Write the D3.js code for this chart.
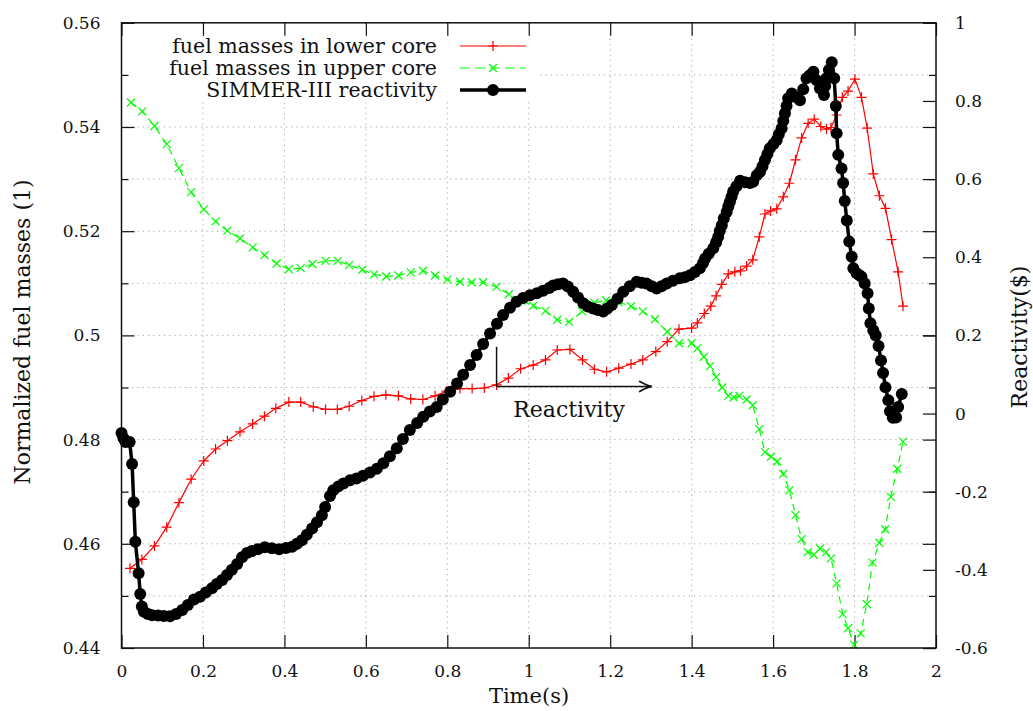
<!DOCTYPE html>
<html><head><meta charset="utf-8">
<script src="https://cdn.jsdelivr.net/npm/d3@7"></script>
<style>
body{margin:0;background:#fff;}
svg text{font-family:"DejaVu Serif",serif;fill:#111;}
</style></head><body>
<svg id="c" width="1033" height="711"></svg>
<script>
// ---------------- data ----------------
const lowerT = [0.021,0.050,0.081,0.111,0.141,0.171,0.202,0.231,0.260,0.291,0.322,0.351,0.379,0.411,0.440,0.471,0.501,0.530,0.559,0.590,0.620,0.649,0.680,0.710,0.740,0.770,0.798,0.831,0.861,0.891,0.921,0.950,0.980,1.011,1.041,1.070,1.101,1.132,1.161,1.191,1.221,1.251,1.280,1.312,1.340,1.369,1.400,1.414,1.431,1.447,1.460,1.474,1.490,1.506,1.520,1.535,1.550,1.566,1.580,1.594,1.609,1.625,1.640,1.655,1.670,1.686,1.701,1.717,1.731,1.742,1.756,1.770,1.784,1.801,1.817,1.831,1.846,1.861,1.876,1.891,1.907,1.919];
const lowerV = [0.4553,0.4570,0.4596,0.4632,0.4679,0.4724,0.4759,0.4782,0.4798,0.4815,0.4830,0.4845,0.4860,0.4872,0.4872,0.4863,0.4858,0.4858,0.4864,0.4875,0.4883,0.4886,0.4884,0.4878,0.4877,0.4884,0.4893,0.4898,0.4898,0.4899,0.4905,0.4918,0.4936,0.4943,0.4953,0.4972,0.4973,0.4953,0.4935,0.4930,0.4937,0.4945,0.4953,0.4969,0.4988,0.5012,0.5014,0.5024,0.5042,0.5056,0.5076,0.5098,0.5118,0.5122,0.5124,0.5133,0.5145,0.5189,0.5233,0.5239,0.5243,0.5266,0.5292,0.5337,0.5379,0.5407,0.5415,0.5401,0.5396,0.5399,0.5423,0.5457,0.5469,0.5492,0.5457,0.5398,0.5310,0.5268,0.5244,0.5184,0.5122,0.5056];

const upperT = [0.023,0.051,0.081,0.111,0.141,0.171,0.202,0.231,0.260,0.291,0.322,0.351,0.381,0.411,0.440,0.469,0.501,0.531,0.559,0.591,0.620,0.650,0.680,0.710,0.740,0.770,0.800,0.831,0.860,0.888,0.921,0.951,0.981,1.011,1.041,1.070,1.099,1.131,1.161,1.190,1.220,1.251,1.280,1.310,1.340,1.369,1.400,1.414,1.430,1.445,1.460,1.475,1.490,1.503,1.517,1.535,1.550,1.566,1.580,1.595,1.610,1.625,1.640,1.655,1.670,1.685,1.700,1.715,1.730,1.742,1.756,1.771,1.784,1.799,1.815,1.830,1.844,1.861,1.875,1.889,1.905,1.919];
const upperV = [0.5447,0.5430,0.5402,0.5367,0.5321,0.5275,0.5242,0.5219,0.5201,0.5186,0.5169,0.5154,0.5138,0.5127,0.5129,0.5137,0.5143,0.5143,0.5135,0.5126,0.5117,0.5113,0.5115,0.5121,0.5124,0.5115,0.5107,0.5103,0.5102,0.5102,0.5093,0.5079,0.5067,0.5057,0.5047,0.5030,0.5026,0.5046,0.5063,0.5067,0.5064,0.5056,0.5046,0.5031,0.5007,0.4985,0.4985,0.4975,0.4959,0.4941,0.4920,0.4900,0.4884,0.4881,0.4884,0.4877,0.4866,0.4820,0.4776,0.4767,0.4758,0.4734,0.4703,0.4655,0.4609,0.4584,0.4579,0.4591,0.4584,0.4572,0.4524,0.4465,0.4438,0.4406,0.4428,0.4484,0.4564,0.4602,0.4628,0.4690,0.4744,0.4796];

const reactT = [0.000,0.005,0.010,0.020,0.026,0.030,0.034,0.042,0.046,0.050,
0.055,0.065,0.075,0.090,0.104,0.119,0.134,0.149,0.163,0.178,
0.193,0.207,0.222,0.234,0.247,0.259,0.271,0.284,0.296,0.308,
0.320,0.335,0.352,0.369,0.387,0.404,0.419,0.431,0.443,0.455,
0.468,0.480,0.492,0.500,0.512,0.520,0.532,0.545,0.561,0.577,
0.593,0.610,0.627,0.643,0.659,0.676,0.691,0.708,0.726,0.741,
0.757,0.774,0.789,0.807,0.824,0.839,0.856,0.872,0.888,0.905,
0.922,0.937,0.954,0.970,0.986,1.003,1.020,1.035,1.050,1.060,
1.072,1.084,1.096,1.109,1.121,1.134,1.145,1.158,1.170,1.183,
1.193,1.204,1.218,1.232,1.248,1.265,1.277,1.289,1.302,1.314,
1.326,1.339,1.354,1.371,1.383,1.396,1.408,1.420,1.428,1.433,
1.442,1.453,1.460,1.465,1.469,1.474,1.479,1.486,1.490,1.494,
1.498,1.502,1.510,1.519,1.531,1.543,1.551,1.560,1.568,1.574,
1.580,1.586,1.592,1.601,1.609,1.614,1.621,1.625,1.629,1.633,
1.637,1.646,1.656,1.666,1.674,1.682,1.690,1.699,1.707,1.715,
1.725,1.728,1.731,1.737,1.744,1.750,1.754,1.756,1.760,1.768,
1.772,1.776,1.781,1.787,1.793,1.797,1.805,1.812,1.817,1.825,
1.832,1.835,1.839,1.846,1.852,1.859,1.865,1.870,1.876,1.883,
1.887,1.894,1.902,1.907,1.916];
const reactR = [-0.050,-0.063,-0.073,-0.073,-0.129,-0.227,-0.328,-0.409,-0.462,-0.494,
-0.507,-0.513,-0.516,-0.517,-0.518,-0.519,-0.513,-0.503,-0.490,-0.476,
-0.469,-0.458,-0.447,-0.436,-0.426,-0.413,-0.400,-0.385,-0.368,-0.357,
-0.352,-0.347,-0.342,-0.345,-0.347,-0.344,-0.341,-0.333,-0.324,-0.310,
-0.294,-0.278,-0.260,-0.239,-0.211,-0.196,-0.187,-0.179,-0.171,-0.166,
-0.159,-0.151,-0.141,-0.127,-0.109,-0.089,-0.065,-0.042,-0.024,-0.008,
0.005,0.017,0.036,0.056,0.077,0.099,0.124,0.150,0.178,0.205,
0.230,0.252,0.271,0.286,0.296,0.303,0.308,0.314,0.321,0.328,
0.331,0.333,0.325,0.312,0.297,0.282,0.274,0.269,0.265,0.261,
0.269,0.278,0.294,0.312,0.326,0.337,0.335,0.333,0.326,0.320,
0.326,0.333,0.340,0.346,0.349,0.354,0.362,0.372,0.385,0.397,
0.409,0.423,0.438,0.452,0.467,0.482,0.499,0.516,0.530,0.542,
0.555,0.568,0.582,0.596,0.592,0.590,0.593,0.610,0.619,0.633,
0.649,0.664,0.679,0.690,0.700,0.715,0.730,0.749,0.768,0.787,
0.807,0.819,0.810,0.802,0.830,0.858,0.866,0.875,0.853,0.832,
0.815,0.838,0.858,0.879,0.899,0.858,0.787,0.717,0.662,0.627,
0.590,0.544,0.494,0.440,0.401,0.372,0.359,0.354,0.350,0.333,
0.308,0.269,0.231,0.213,0.200,0.173,0.136,0.104,0.067,0.034,
0.006,-0.011,-0.010,0.017,0.050];

const xTicks = [0,0.2,0.4,0.6,0.8,1,1.2,1.4,1.6,1.8,2];
const xGrid = [0.2,0.4,0.6,0.8,1,1.2,1.4,1.6,1.8];
const yLeftTicks = [0.44,0.46,0.48,0.5,0.52,0.54,0.56];
const yLeftMinor = [0.45,0.47,0.49,0.51,0.53,0.55];
const yGrid = [0.45,0.46,0.47,0.48,0.49,0.5,0.51,0.52,0.53,0.54,0.55];
const yRightTicks = [-0.6,-0.4,-0.2,0,0.2,0.4,0.6,0.8,1];
const seriesNames = ["fuel masses in lower core","fuel masses in upper core","SIMMER-III reactivity"];
const annotT = [0.921,1.302];      // vertical line time, arrow end time
const annotV = [0.4978,0.4902];    // vertical line top, arrow level
const annotLabel = ["Reactivity"];
const annotLabelPos = [1.099,0.4843];

// ---------------- drawing ----------------
const svg = d3.select("#c");
const P = {left:121.5,right:936,top:22.8,bottom:648};
const x = d3.scaleLinear().domain([0,2]).range([P.left,P.right]);
const yL = d3.scaleLinear().domain([0.44,0.56]).range([P.bottom,P.top]);
const yR = d3.scaleLinear().domain([-0.6,1]).range([P.bottom,P.top]);
const FS = 17, FS_KEY = 20.5, FS_TITLE = 22;

svg.append("rect").attr("width",1033).attr("height",711).attr("fill","#fff");

// grid
const grid = svg.append("g").attr("stroke","#aaa").attr("stroke-width",1).attr("stroke-dasharray","1.3,4");
grid.selectAll("line.h").data(yGrid).join("line").attr("class","h")
  .attr("x1",P.left).attr("x2",P.right).attr("y1",d=>yL(d)).attr("y2",d=>yL(d));
grid.selectAll("line.v").data(xGrid).join("line").attr("class","v")
  .attr("y1",P.top).attr("y2",P.bottom).attr("x1",d=>x(d)).attr("x2",d=>x(d));

// key background (opaque key)
svg.append("rect").attr("x",P.left+1).attr("y",P.top+1).attr("width",537-P.left).attr("height",99-P.top).attr("fill","#fff");

// axes
function styleAxis(g){ g.select(".domain").remove(); g.selectAll(".tick line").attr("stroke","#111").attr("stroke-width",1.2);
  g.selectAll("text").style("font-family","DejaVu Serif").attr("fill","#111").attr("font-size",FS); }
const TL=13, TM=7;
svg.append("g").attr("transform",`translate(0,${P.bottom})`)
  .call(d3.axisBottom(x).tickValues(xTicks).tickFormat(d=>String(d)).tickSize(-TL).tickPadding(17)).call(styleAxis);
svg.append("g").attr("transform",`translate(0,${P.top})`)
  .call(d3.axisTop(x).tickValues(xTicks).tickFormat("").tickSize(-TL)).call(styleAxis);
svg.append("g").attr("transform",`translate(${P.left},0)`)
  .call(d3.axisLeft(yL).tickValues(yLeftTicks).tickFormat(d=>String(d)).tickSize(-TL).tickPadding(21)).call(styleAxis);
svg.append("g").attr("transform",`translate(${P.left},0)`)
  .call(d3.axisLeft(yL).tickValues(yLeftMinor).tickFormat("").tickSize(-TM)).call(styleAxis);
svg.append("g").attr("transform",`translate(${P.right},0)`)
  .call(d3.axisRight(yL).tickValues(yLeftTicks).tickFormat("").tickSize(-TL)).call(styleAxis);
svg.append("g").attr("transform",`translate(${P.right},0)`)
  .call(d3.axisRight(yL).tickValues(yLeftMinor).tickFormat("").tickSize(-TM)).call(styleAxis);
svg.append("g").attr("transform",`translate(${P.right},0)`)
  .call(d3.axisRight(yR).tickValues(yRightTicks).tickFormat(d=>String(d)).tickSize(-TL).tickPadding(19)).call(styleAxis);

// series
const lower = lowerT.map((t,i)=>[t,lowerV[i]]);
const upper = upperT.map((t,i)=>[t,upperV[i]]);
const react = reactT.map((t,i)=>[t,reactR[i]]);
const RED="#ff0000", GREEN="#00ff00";
const plusPath="M-5,0H5M0,-5V5", crossPath="M-4,-4L4,4M-4,4L4,-4";

svg.append("path").datum(lower).attr("fill","none").attr("stroke",RED).attr("stroke-width",1.2)
  .attr("d",d3.line().x(d=>x(d[0])).y(d=>yL(d[1])));
svg.append("g").selectAll("path").data(lower).join("path").attr("d",plusPath)
  .attr("transform",d=>`translate(${x(d[0])},${yL(d[1])})`).attr("stroke",RED).attr("stroke-width",1.2);

svg.append("path").datum(upper).attr("fill","none").attr("stroke",GREEN).attr("stroke-width",1.2).attr("stroke-dasharray","7,5")
  .attr("d",d3.line().x(d=>x(d[0])).y(d=>yL(d[1])));
svg.append("g").selectAll("path").data(upper).join("path").attr("d",crossPath)
  .attr("transform",d=>`translate(${x(d[0])},${yL(d[1])})`).attr("stroke",GREEN).attr("stroke-width",1.2);

svg.append("path").datum(react).attr("fill","none").attr("stroke","#000").attr("stroke-width",3.5).attr("stroke-linejoin","round")
  .attr("d",d3.line().x(d=>x(d[0])).y(d=>yR(d[1])));
svg.append("g").selectAll("circle").data(react).join("circle")
  .attr("cx",d=>x(d[0])).attr("cy",d=>yR(d[1])).attr("r",6).attr("fill","#000");

// annotation
const ax0=x(annotT[0]), ax1=x(annotT[1]), ay0=yL(annotV[0]), ay1=yL(annotV[1]);
svg.append("line").attr("x1",ax0).attr("x2",ax0).attr("y1",ay0).attr("y2",ay1).attr("stroke","#111").attr("stroke-width",1.5);
svg.append("line").attr("x1",ax0).attr("x2",ax1-1).attr("y1",ay1).attr("y2",ay1).attr("stroke","#111").attr("stroke-width",1.5);
svg.append("path").attr("d",`M${ax1-12},${ay1-5}Q${ax1-5},${ay1-1} ${ax1},${ay1}Q${ax1-5},${ay1+1} ${ax1-12},${ay1+5}`)
  .attr("fill","none").attr("stroke","#111").attr("stroke-width",1.8).attr("stroke-linecap","round");
svg.append("text").attr("x",x(annotLabelPos[0])).attr("y",yL(annotLabelPos[1])).attr("text-anchor","middle")
  .attr("font-size",FS_TITLE).text(annotLabel[0]);

// frame
svg.append("rect").attr("x",P.left).attr("y",P.top).attr("width",P.right-P.left).attr("height",P.bottom-P.top)
  .attr("fill","none").attr("stroke","#111").attr("stroke-width",1.5);

// legend
const legY = [46,68,90];
const lg = svg.append("g");
seriesNames.forEach((name,i)=>{
  lg.append("text").attr("x",437).attr("y",legY[i]).attr("dy","0.35em").attr("text-anchor","end").attr("font-size",FS_KEY).text(name);
});
lg.append("line").attr("x1",460).attr("x2",526).attr("y1",legY[0]).attr("y2",legY[0]).attr("stroke",RED).attr("stroke-width",1.2);
lg.append("path").attr("d",plusPath).attr("transform",`translate(493,${legY[0]})`).attr("stroke",RED).attr("stroke-width",1.2);
lg.append("line").attr("x1",460).attr("x2",526).attr("y1",legY[1]).attr("y2",legY[1]).attr("stroke",GREEN).attr("stroke-width",1.2).attr("stroke-dasharray","10,5");
lg.append("path").attr("d",crossPath).attr("transform",`translate(493,${legY[1]})`).attr("stroke",GREEN).attr("stroke-width",1.2);
lg.append("line").attr("x1",460).attr("x2",526).attr("y1",legY[2]).attr("y2",legY[2]).attr("stroke","#000").attr("stroke-width",3.5);
lg.append("circle").attr("cx",493).attr("cy",legY[2]).attr("r",6).attr("fill","#000");

// axis titles
svg.append("text").attr("x",529).attr("y",696).attr("dy","0.35em").attr("text-anchor","middle").attr("font-size",21).text("Time(s)");
svg.append("text").attr("transform","translate(22,332) rotate(-90)").attr("dy","0.35em").attr("text-anchor","middle").attr("font-size",FS_TITLE).text("Normalized fuel masses (1)");
svg.append("text").attr("transform","translate(1019,337) rotate(-90)").attr("dy","0.35em").attr("text-anchor","middle").attr("font-size",FS_TITLE).text("Reactivity($)");
</script>
</body></html>
